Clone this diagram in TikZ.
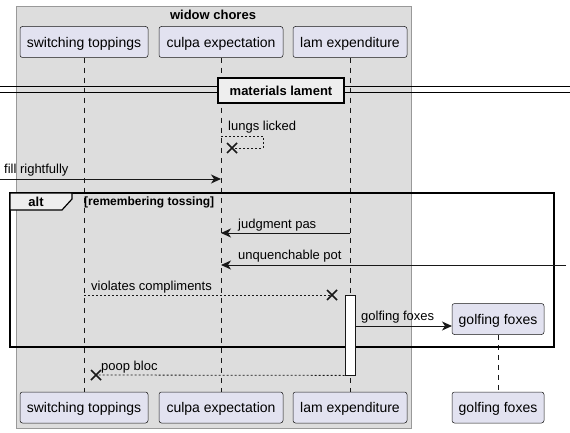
\documentclass[tikz,border=0pt]{standalone}
\usepackage{fontspec}
\setmainfont{Liberation Sans}
\usetikzlibrary{arrows.meta}
\definecolor{partfill}{HTML}{E2E2F0}
\definecolor{linec}{HTML}{181818}
\definecolor{boxfill}{HTML}{DDDDDD}
\definecolor{boxline}{HTML}{999999}
\definecolor{tabfill}{HTML}{EEEEEE}
\begin{document}
\begin{tikzpicture}[x=1pt,y=-1pt,
 part/.style={draw=linec, fill=partfill, rounded corners=2.5pt, minimum height=31pt, inner sep=0pt, text depth=0pt, font=\fontsize{14}{16}\selectfont, line width=0.5pt},
 msg/.style={font=\fontsize{13}{15}\selectfont, inner sep=0pt, anchor=west},
 life/.style={draw=linec, line width=0.5pt, dash pattern=on 5pt off 5pt},
 arr/.style={draw=linec, line width=1pt, -{Stealth[length=10pt,width=9pt,inset=3pt]}},
 ret/.style={draw=linec, line width=0.8pt, dash pattern=on 2pt off 2pt},
 xmark/.style={draw=linec, line width=1.6pt},
 bold13/.style={font=\bfseries\fontsize{13}{15}\selectfont, inner sep=0pt}
]
\useasboundingbox (0,0) rectangle (570,433);
% box
\draw[fill=boxfill, draw=boxline, line width=0.6pt] (16,6) rectangle (411,428);
\node[bold13] (title) at (213,15) {widow chores};
% participants
\node[part, minimum width=128pt] (st) at (84,42) {switching toppings};
\node[part, minimum width=124pt] (ce) at (221,42) {culpa expectation};
\node[part, minimum width=114pt] (le) at (350,42) {lam expenditure};
\node[part, minimum width=128pt] (stb) at (84,407.5) {switching toppings};
\node[part, minimum width=124pt] (ceb) at (221,407.5) {culpa expectation};
\node[part, minimum width=114pt] (leb) at (350,407.5) {lam expenditure};
\node[part, minimum width=92pt] (gf) at (498,319) {golfing foxes};
\node[part, minimum width=92pt] (gfb) at (498,407.5) {golfing foxes};
% lifelines
\draw[life] (st.south) -- (stb.north);
\draw[life] (ce.south) -- (ceb.north);
\draw[life] (le.south) -- (leb.north);
\draw[life] (gf.south) -- (gfb.north);
% divider
\draw[line width=1pt] (0,86.5) -- (570,86.5);
\draw[line width=1pt] (0,93) -- (570,93);
\node[draw, line width=1.5pt, fill=tabfill, minimum width=126pt, minimum height=25pt, inner sep=0pt, font=\bfseries\fontsize{13}{15}\selectfont] (div) at (281,90.5) {materials lament};
% lungs licked
\coordinate (ll1) at (221,136);
\coordinate (ll2) at (263,136);
\coordinate (ll3) at (263,148);
\coordinate (llx) at (232,148);
\draw[ret] (ll1) -- (ll2) -- (ll3) -- (llx);
\draw[xmark] (llx) ++(-5,-5) -- ++(10,10) ++(0,-10) -- ++(-10,10);
\node[msg] (lbl1) at (228,127) {lungs licked};
% fill rightfully
\coordinate (fr0) at (0,179);
\coordinate (fr1) at (221,179);
\draw[arr] (fr0) -- (fr1);
\node[msg] (lbl2) at (4,170) {fill rightfully};
% alt frame
\draw[line width=1.5pt] (10,193) rectangle (554,347);
\draw[line width=1.2pt, fill=tabfill] (10,193) -- (72,193) -- (72,199) -- (62,210) -- (10,210) -- cycle;
\node[bold13] (alt) at (36,202) {alt};
\node[font=\bfseries\fontsize{12}{14}\selectfont, inner sep=0pt, anchor=west] (guard) at (84,202.5) {[remembering tossing]};
% judgment pas
\coordinate (jp0) at (350,233);
\coordinate (jp1) at (221,233);
\draw[arr] (jp0) -- (jp1);
\node[msg] (lbl3) at (238,225) {judgment pas};
% unquenchable pot
\coordinate (up0) at (566,265);
\coordinate (up1) at (221,265);
\draw[arr] (up0) -- (up1);
\node[msg] (lbl4) at (238,256) {unquenchable pot};
% violates compliments
\coordinate (vc0) at (84,295);
\coordinate (vcx) at (332,295);
\draw[ret] (vc0) -- (vcx);
\draw[xmark] (vcx) ++(-5,-5) -- ++(10,10) ++(0,-10) -- ++(-10,10);
\node[msg] (lbl5) at (91,287) {violates compliments};
% activation
\node[draw=linec, fill=white, line width=0.8pt, minimum width=10pt, minimum height=80pt, inner sep=0pt] (act) at (350,335) {};
% golfing foxes message
\coordinate (gm0) at (355,326);
\coordinate (gm1) at (452,326);
\draw[arr] (gm0) -- (gm1);
\node[msg] (lbl6) at (361,317) {golfing foxes};
% poop bloc
\coordinate (pbx) at (96,375);
\draw[ret] (act.south west) -- (pbx);
\draw[xmark] (pbx) ++(-5,-5) -- ++(10,10) ++(0,-10) -- ++(-10,10);
\node[msg] (lbl7) at (101,367) {poop bloc};
\end{tikzpicture}
\end{document}
